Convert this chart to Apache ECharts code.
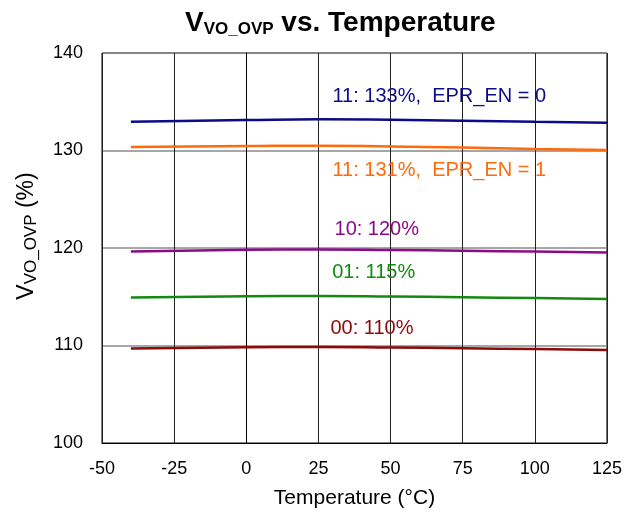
<!DOCTYPE html>
<html>
<head>
<meta charset="utf-8">
<script src="https://cdn.jsdelivr.net/npm/echarts@6/dist/echarts.min.js"></script>
<style>
  html, body { margin: 0; padding: 0; background: #fff; }
  #chart { width: 625px; height: 514px; }
</style>
</head>
<body>
<div id="chart"></div>
<script>
// temperature points (°C)
const temps = [-40, 0, 25, 50, 75, 100, 125]
// VVO_OVP (%) per setting
const ovp133 = [132.95, 133.12, 133.2, 133.15, 133.05, 132.95, 132.85]
const ovp131 = [130.35, 130.45, 130.5, 130.42, 130.3, 130.15, 130.05]
const ovp120 = [119.65, 119.82, 119.85, 119.8, 119.72, 119.63, 119.55]
const ovp115 = [114.92, 115.05, 115.08, 115.03, 114.95, 114.86, 114.78]
const ovp110 = [109.7, 109.82, 109.85, 109.8, 109.72, 109.63, 109.55]
const names = ['11: 133%,  EPR_EN = 0', '11: 131%,  EPR_EN = 1', '10: 120%', '01: 115%', '00: 110%']
const colors = ['#0b0b8a', '#ff6a0d', '#8b0a8b', '#128a12', '#8b0a0a']
// where each curve label starts (data coords)
const labelX = [29.7, 29.7, 30.4, 29.6, 29.0]
const labelY = [135.5, 128.0, 121.85, 117.45, 111.7]

const allSeries = [ovp133, ovp131, ovp120, ovp115, ovp110]

let myChart = echarts.init(document.getElementById('chart'))
const font = 'Liberation Sans, Arial, sans-serif'

let option = {
  backgroundColor: '#fff',
  animation: false,
  textStyle: { fontFamily: font },
  title: {
    left: 180,
    top: 4,
    text: '{b|V}{s|VO_OVP}{b| vs. Temperature}',
    textStyle: {
      rich: {
        b: { fontSize: 28, fontWeight: 'bold', color: '#000', fontFamily: font },
        s: { fontSize: 17, fontWeight: 'bold', color: '#000', fontFamily: font, padding: [12, 0, 0, 0] }
      }
    }
  },
  grid: {
    left: 102,
    right: 16,
    top: 53,
    bottom: 71,
    show: true,
    borderColor: '#000',
    borderWidth: 1
  },
  xAxis: {
    type: 'value',
    min: -50,
    max: 125,
    interval: 25,
    name: 'Temperature (°C)',
    nameLocation: 'middle',
    nameGap: 45,
    nameTextStyle: { fontSize: 21, color: '#000', fontFamily: font },
    axisLine: { lineStyle: { color: '#000' } },
    axisTick: { show: false },
    axisLabel: { color: '#000', fontSize: 18, margin: 17, fontFamily: font },
    splitLine: { lineStyle: { color: '#222', width: 1 } }
  },
  yAxis: {
    type: 'value',
    min: 100,
    max: 140,
    interval: 10,
    name: '{b|V}{s|VO_OVP}{b| (%)}',
    nameLocation: 'middle',
    nameRotate: 90,
    nameGap: 62,
    nameTextStyle: {
      padding: [0, 0, 0, 24],
      rich: {
        b: { fontSize: 23, color: '#000', fontFamily: font },
        s: { fontSize: 17, color: '#000', fontFamily: font, padding: [9, 0, 0, 0] }
      }
    },
    axisLine: { show: true, lineStyle: { color: '#000' } },
    axisTick: { show: false },
    axisLabel: { color: '#000', fontSize: 18, margin: 19, fontFamily: font },
    splitLine: { lineStyle: { color: '#888', width: 1.5 } }
  },
  series: allSeries.map((vals, i) => ({
    name: names[i],
    type: 'line',
    smooth: true,
    symbol: 'none',
    lineStyle: { color: colors[i], width: 2.5 },
    data: temps.map((t, j) => [t, vals[j]]),
    markPoint: {
      symbol: 'circle',
      symbolSize: 1,
      itemStyle: { color: 'transparent' },
      label: {
        show: true,
        formatter: names[i],
        color: colors[i],
        fontSize: 20,
        fontFamily: font,
        position: 'right',
        distance: 0
      },
      data: [{ coord: [labelX[i], labelY[i]] }]
    }
  }))
}
myChart.setOption(option)
</script>
</body>
</html>
